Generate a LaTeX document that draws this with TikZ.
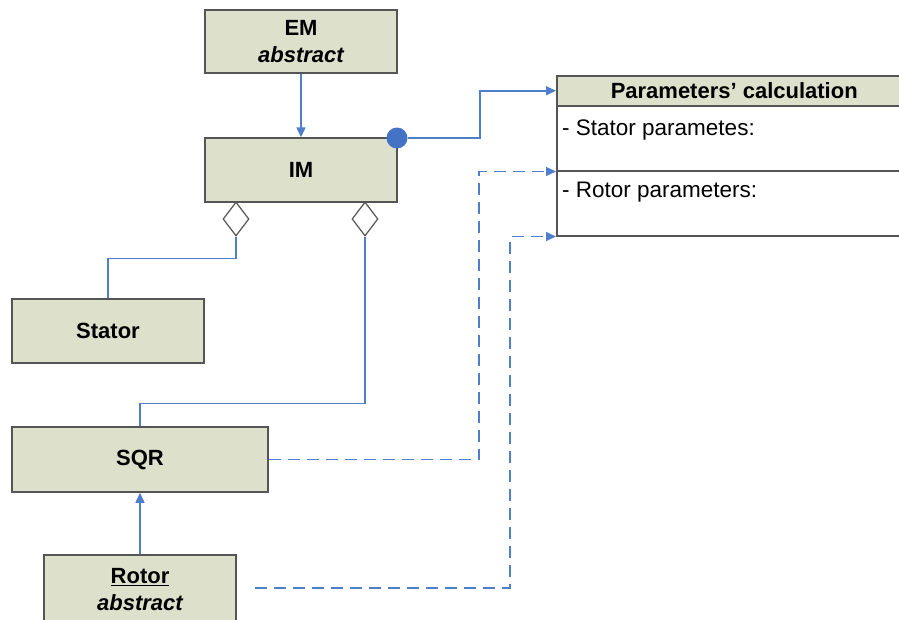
\documentclass[tikz,border=0pt]{standalone}
\usepackage{fontspec}
\setmainfont{Liberation Sans}
\usetikzlibrary{arrows.meta,shapes.geometric}
\definecolor{boxfill}{HTML}{DDE1CB}
\definecolor{boxline}{HTML}{555555}
\definecolor{conncol}{HTML}{4F7FCB}
\definecolor{circfill}{HTML}{4472C4}
\begin{document}
\begin{tikzpicture}[x=1pt,y=-1pt,
  cls/.style={draw=boxline, line width=1.5pt, fill=boxfill, inner sep=0pt,
    font=\fontsize{22}{27}\selectfont\bfseries, align=center},
  row/.style={draw=boxline, line width=1.5pt, fill=white, inner sep=0pt, anchor=north west,
    minimum width=355pt, minimum height=65pt},
  attr/.style={anchor=west, inner sep=0pt, font=\fontsize{22.5}{24}\selectfont},
  conn/.style={draw=conncol, line width=1.5pt},
  tip/.style={-{Triangle[length=10pt,width=9pt]}},
  dashedconn/.style={dash pattern=on 12pt off 7pt},
  agg/.style={diamond, draw=boxline, fill=white, line width=1.2pt,
    minimum width=26pt, minimum height=34pt, inner sep=0pt},
  ]
\useasboundingbox (0,0) rectangle (899,619);
% Parameters box
\node[row] (r1) at (556,105) {};
\node[row] (r2) at (556,170) {};
\node[cls, anchor=north west, minimum width=355pt, minimum height=30pt] (ph) at (556,75) {Parameters’ calculation};
\node[attr] (t1) at (562,130) {- Stator parametes:};
\node[attr] (t2) at (562,192) {- Rotor parameters:};
% classes
\node[cls, minimum width=192pt, minimum height=63pt] (em) at (301,41.5) {EM\\\itshape abstract};
\node[cls, minimum width=192pt, minimum height=64pt] (im) at (301,170) {IM};
\node[cls, minimum width=192pt, minimum height=64pt] (stator) at (108,331) {Stator};
\node[cls, minimum width=256pt, minimum height=65pt] (sqr) at (140,459.5) {SQR};
\node[cls, minimum width=192pt, minimum height=70pt] (rotor) at (140,590) {\underline{Rotor}\\\itshape abstract};
% diamonds and circle
\node[agg] (d1) at (236,219) {};
\node[agg] (d2) at (365,219) {};
\node[circle, fill=circfill, minimum size=21pt, inner sep=0pt] (c) at (397,138) {};
% connectors
\draw[conn, tip] (em) -- (im);
\draw[conn, tip] (rotor) -- (sqr);
\draw[conn] (d1.south) -- ++(0,22) -| (stator.north);
\draw[conn] (d2.south) -- ++(0,167) -| (sqr.north);
\draw[conn, tip] (c.east) -- ++(72.5,0) |- (ph.west);
\draw[conn, dashedconn, tip] (sqr.east) -- ++(210,0) |- (r1.south west);
\coordinate (rs) at (255,588);
\draw[conn, dashedconn, tip] (rs) -- (510,588) |- (r2.south west);
\end{tikzpicture}
\end{document}
